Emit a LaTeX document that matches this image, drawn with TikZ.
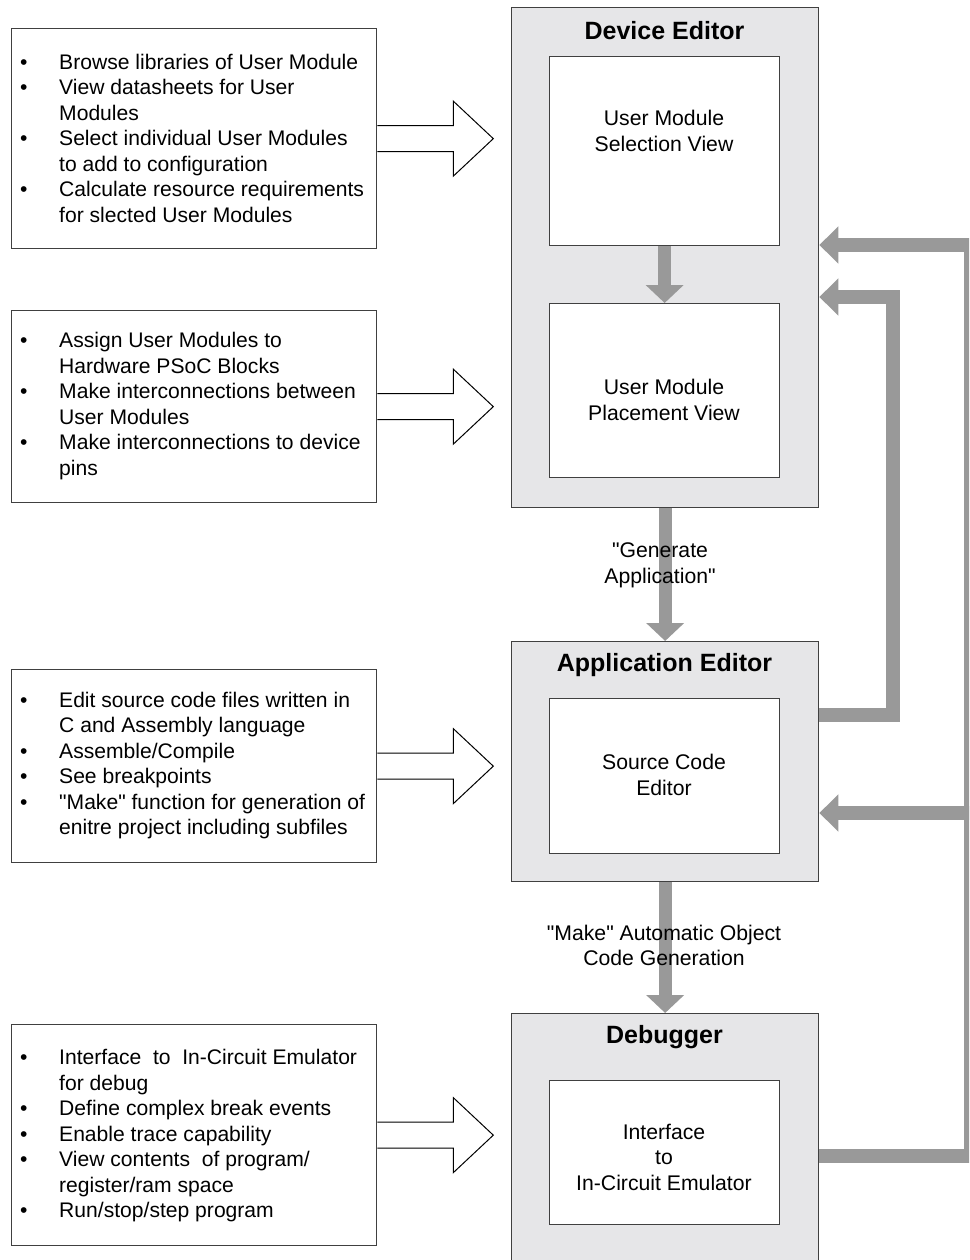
\documentclass[tikz,border=0pt]{standalone}
\usepackage{fontspec}
\setmainfont{Liberation Sans}[Ligatures=TeXOff]
\usetikzlibrary{arrows.meta}
\definecolor{boxgray}{RGB}{230,230,232}
\definecolor{arrgray}{RGB}{153,153,153}
\definecolor{edgegray}{RGB}{64,64,64}
\newcommand\bul{\makebox[39pt][l]{\textbullet}}
\newcommand\nob{\hspace*{39pt}}
\tikzset{
 outerbox/.style={draw=edgegray, line width=1.3pt, fill=boxgray, anchor=north west, inner sep=0},
 innerbox/.style={draw=edgegray, line width=1.3pt, fill=white, anchor=north west, inner sep=0},
 notebox/.style={draw=edgegray, line width=1.3pt, fill=white, anchor=north west, inner sep=0, minimum width=365pt},
 bodytext/.style={font=\fontsize{21.2}{25.5}\selectfont, align=center, inner sep=0},
 titletext/.style={font=\fontsize{25}{30}\selectfont\bfseries, inner sep=0},
 listtext/.style={font=\fontsize{21.1}{25.5}\selectfont, anchor=west, align=left, inner sep=0},
 flow/.style={draw=arrgray, line width=13pt, -{Triangle[length=18pt,width=37pt]}},
 feedback/.style={draw=arrgray, line width=14pt, line join=miter, -{Triangle[length=19pt,width=36pt]}},
 hollow/.style={draw=black, line width=1pt, fill=white, line join=miter},
}
\begin{document}
\begin{tikzpicture}[x=1pt,y=-1pt]
\useasboundingbox (0,0) rectangle (969,1260);
\clip (0,0) rectangle (969,1260);

% ---- main editors
\node[outerbox, minimum width=307pt, minimum height=500pt] (de) at (511,7) {};
\node[titletext] (detitle) at (664.5,31) {Device Editor};
\node[innerbox, minimum width=230pt, minimum height=189pt] (sel) at (549,56) {};
\node[bodytext] (seltext) at (664,131) {User Module\\Selection View};
\node[innerbox, minimum width=230pt, minimum height=174pt] (plc) at (549,303) {};
\node[bodytext] (plctext) at (664,400) {User Module\\Placement View};

\node[outerbox, minimum width=307pt, minimum height=240pt] (app) at (511,641) {};
\node[titletext] (apptitle) at (664.5,665) {Application Editor};
\node[innerbox, minimum width=230pt, minimum height=155pt] (src) at (549,698) {};
\node[bodytext] (srctext) at (664,775) {Source Code\\Editor};

\node[outerbox, minimum width=307pt, minimum height=280pt] (dbg) at (511,1013) {};
\node[titletext] (dbgtitle) at (664.5,1037) {Debugger};
\node[innerbox, minimum width=230pt, minimum height=144pt] (ice) at (549,1080) {};
\node[bodytext] (icetext) at (664,1157) {Interface\\to\\In-Circuit Emulator};

% ---- flow arrows
\draw[flow] (sel.south) -- (plc.north);
\draw[flow] (de.south) -- (app.north);
\draw[flow] (app.south) -- (dbg.north);
\node[bodytext] (gen) at (660,565.5) {"Generate\\Application"};
\node[bodytext] (make) at (664,945.5) {"Make" Automatic Object\\Code Generation};

% ---- feedback loops
\coordinate (o1) at (971,1156);
\coordinate (o2) at (971,245);
\coordinate (o3) at (971,813);
\coordinate (i1) at (893,715);
\coordinate (i2) at (893,297);
\draw[feedback] (dbg.east |- o1) -- (o1) -- (o2) -- (de.east |- o2);
\draw[feedback] (o3) -- (app.east |- o3);
\draw[feedback] (app.east |- i1) -- (i1) -- (i2) -- (de.east |- i2);

% ---- note boxes
\node[notebox, minimum height=220pt] (b1) at (11,28) {};
\node[listtext] (t1) at (20,138) {\bul Browse libraries of User Module\\\bul View datasheets for User\\\nob Modules\\\bul Select individual User Modules\\\nob to add to configuration\\\bul Calculate resource requirements\\\nob for slected User Modules};

\node[notebox, minimum height=192pt] (b2) at (11,310) {};
\node[listtext] (t2) at (20,406) {\bul Assign User Modules to\\\nob Hardware PSoC Blocks\\\bul Make interconnections between\\\nob User Modules\\\bul Make interconnections to device\\\nob pins};

\node[notebox, minimum height=193pt] (b3) at (11,669) {};
\node[listtext] (t3) at (20,765.5) {\bul Edit source code files written in\\\nob C and Assembly language\\\bul Assemble/Compile\\\bul See breakpoints\\\bul "Make" function for generation of\\\nob enitre project including subfiles};

\node[notebox, minimum height=221pt] (b4) at (11,1024) {};
\node[listtext] (t4) at (20,1136) {\bul Interface\ \ to\ \ In-Circuit Emulator\\\nob for debug\\\bul Define complex break events\\\bul Enable trace capability\\\bul View contents\ \ of program/\\\nob register/ram space\\\bul Run/stop/step program};

% ---- hollow block arrows
\foreach \b in {b1, b2, b3, b4}{
  \draw[hollow] (\b.east) ++(0,-13) -- ++(76,0) -- ++(0,-24.5) -- ++(40,37.5) -- ++(-40,37.5) -- ++(0,-24.5) -- ++(-76,0);
}
\end{tikzpicture}
\end{document}
